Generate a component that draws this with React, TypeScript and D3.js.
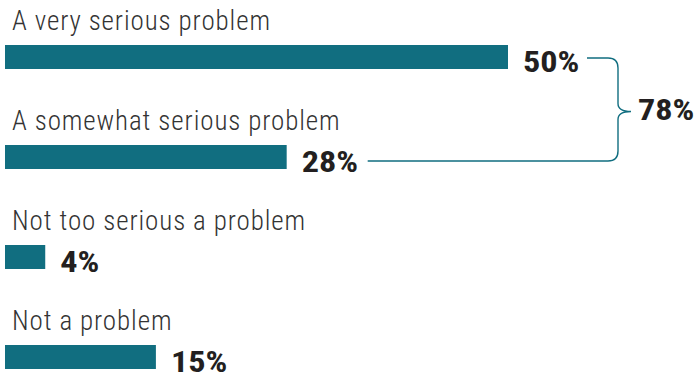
import React from "react";
import * as d3 from "d3";

const categories = [
  "A very serious problem",
  "A somewhat serious problem",
  "Not too serious a problem",
  "Not a problem",
];
const values = [50, 28, 4, 15];
const combinedLabel = "78%";

const W = 697;
const H = 375;
const TEAL = "#116e80";
const FONT = "'Roboto Condensed', 'Liberation Sans Narrow', 'DejaVu Sans Condensed', sans-serif";

// bold figure, widened slightly to match a wider condensed face
function Figure({ x, y, text }: { x: number; y: number; text: string }) {
  return (
    <text
      transform={`translate(${x},${y}) scale(1.14,1)`}
      fontFamily={FONT}
      fontWeight="bold"
      fontSize={30}
      fill="#231f20"
    >
      {text}
    </text>
  );
}

export default function App() {
  const x = d3.scaleLinear().domain([0, 50]).range([5, 508]);
  const y = d3.scaleBand<string>().domain(categories).range([0, 400]).paddingInner(0);
  const barH = 24;
  const barTop = (c: string) => (y(c) as number) + 45;

  // bracket joining the first two bars
  const b0 = barTop(categories[0]) + barH / 2 + 1;
  const b1 = barTop(categories[1]) + barH / 2 + 4;
  const xStart0 = x(values[0]) + 79;
  const xStart1 = x(values[1]) + 81;
  const xv = 618;
  const r = 10;
  const mid = (b0 + b1) / 2 + 2;
  const path = d3.path();
  path.moveTo(xStart0, b0);
  path.lineTo(xv - r, b0);
  path.quadraticCurveTo(xv, b0, xv, b0 + r);
  path.lineTo(xv, mid - 8);
  path.quadraticCurveTo(xv, mid, xv + 13, mid);
  path.quadraticCurveTo(xv, mid, xv, mid + 8);
  path.lineTo(xv, b1 - r);
  path.quadraticCurveTo(xv, b1, xv - r, b1);
  path.lineTo(xStart1, b1);

  return (
    <svg width={W} height={H} style={{ position: "absolute", left: 0, top: 0 }}>
      <rect width={W} height={H} fill="#fff" />
      {categories.map((c, i) => {
        const top = barTop(c);
        return (
          <g key={c}>
            <text
              x={12}
              y={top - 15}
              fontFamily={FONT}
              fontSize={27}
              fontWeight={300}
              fill="#333"
              letterSpacing={0.9}
            >
              {c}
            </text>
            <rect x={x(0)} y={top} width={x(values[i]) - x(0)} height={barH} fill={TEAL} />
            <Figure x={x(values[i]) + 15} y={top + barH + 2.5} text={`${values[i]}%`} />
          </g>
        );
      })}
      <path d={path.toString()} fill="none" stroke={TEAL} strokeWidth={1.4} />
      <Figure x={638} y={120} text={combinedLabel} />
    </svg>
  );
}
